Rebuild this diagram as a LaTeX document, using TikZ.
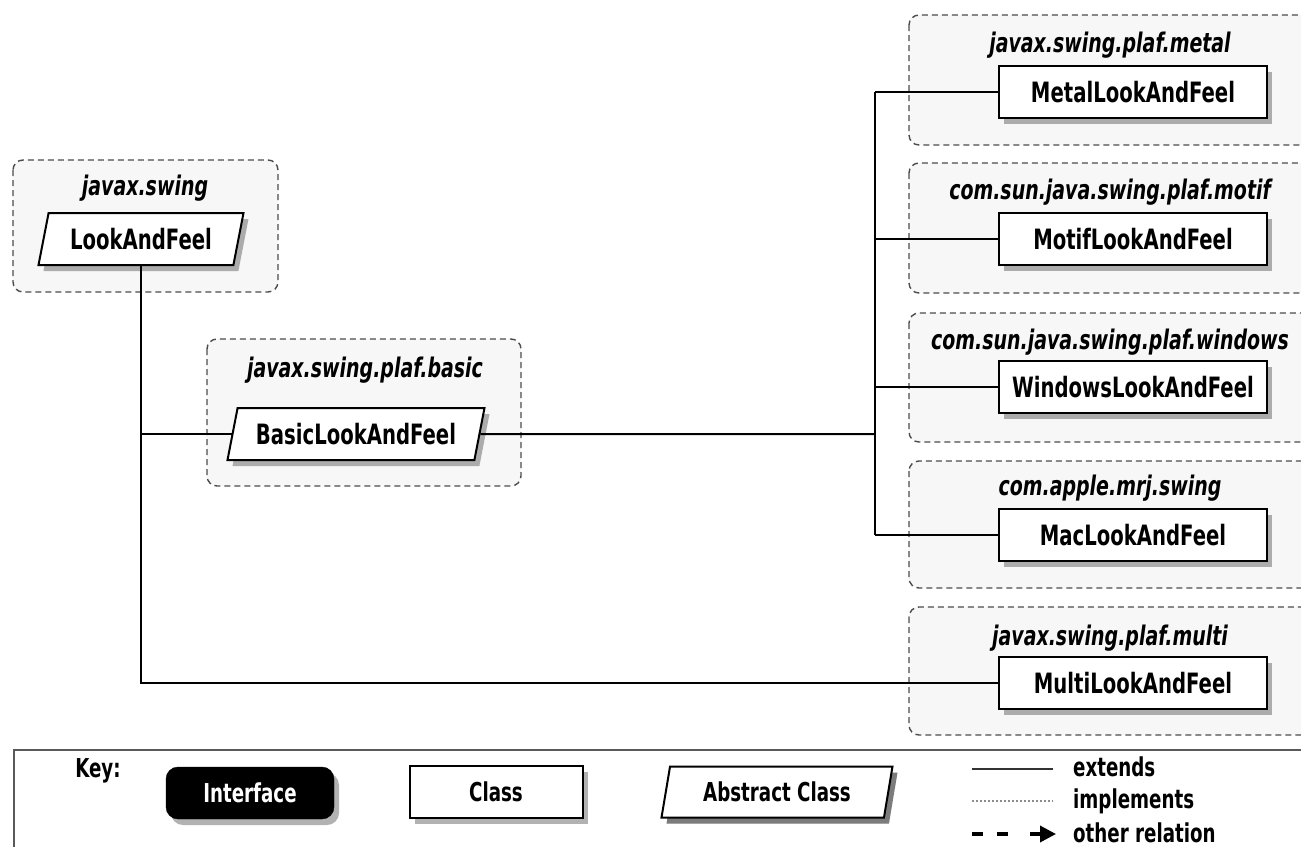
\documentclass[tikz,border=0pt]{standalone}
\usepackage{fontspec}
\setmainfont{DejaVu Sans Condensed}[FakeStretch=0.78, BoldFont={DejaVu Sans Condensed Bold}, BoldItalicFont={DejaVu Sans Condensed Bold Oblique}]
\usetikzlibrary{shapes.geometric,shadows,arrows.meta}
\tikzset{
  pkg/.style={draw=black!70, dash pattern=on 6pt off 4pt, line width=1.4pt, rounded corners=10pt, fill=black!3},
  shad/.style={drop shadow={shadow xshift=5pt, shadow yshift=-6pt, opacity=0.3, fill=black}},
  cls/.style={draw, line width=2pt, fill=white, minimum width=268pt, minimum height=52pt, inner sep=0pt, font=\bfseries\fontsize{28}{32}\selectfont, shad},
  absc/.style={trapezium, trapezium left angle=65, trapezium right angle=115, trapezium stretches body=true, draw, line width=2pt, fill=white, minimum height=52pt, inner sep=0pt, font=\bfseries\fontsize{28}{32}\selectfont, shad},
  pkglabel/.style={font=\bfseries\itshape\fontsize{27}{32}\selectfont, inner sep=0pt},
  conn/.style={line width=2pt},
  keytext/.style={font=\bfseries\fontsize{26}{30}\selectfont, inner sep=0pt}
}
\begin{document}
\begin{tikzpicture}[x=1pt,y=-1pt]
\useasboundingbox (0,0) rectangle (1301,846);
\clip (0,0) rectangle (1301,846);
% packages
\draw[pkg] (13,160) rectangle (278,292);
\draw[pkg] (207,339) rectangle (521,486);
\draw[pkg] (909,15) rectangle (1330,145);
\draw[pkg] (909,163) rectangle (1330,293);
\draw[pkg] (909,313) rectangle (1330,442);
\draw[pkg] (909,461) rectangle (1330,588);
\draw[pkg] (909,607) rectangle (1330,735);
% package labels
\node[pkglabel] (lswing) at (145,188) {javax.swing};
\node[pkglabel] (lbasic) at (365,370) {javax.swing.plaf.basic};
\node[pkglabel] (lmetal) at (1110,45) {javax.swing.plaf.metal};
\node[pkglabel] (lmotif) at (1110,192) {com.sun.java.swing.plaf.motif};
\node[pkglabel] (lwin) at (1110,342) {com.sun.java.swing.plaf.windows};
\node[pkglabel] (lmac) at (1110,488) {com.apple.mrj.swing};
\node[pkglabel] (lmulti) at (1110,638) {javax.swing.plaf.multi};
% class nodes
\node[absc, minimum width=205pt] (laf) at (141,239) {LookAndFeel};
\node[absc, minimum width=257pt] (basic) at (356,434) {BasicLookAndFeel};
\node[cls] (metal) at (1133,92) {MetalLookAndFeel};
\node[cls] (motif) at (1133,239) {MotifLookAndFeel};
\node[cls] (win) at (1133,387) {WindowsLookAndFeel};
\node[cls] (mac) at (1133,535) {MacLookAndFeel};
\node[cls] (multi) at (1133,683) {MultiLookAndFeel};
\coordinate (trunk) at (875,434);
% connectors
\draw[conn] (laf.south) -- (laf.south |- multi.west) -- (multi.west);
\draw[conn] (laf.south |- basic.west) -- (basic.west);
\draw[conn] (basic.east) -- (trunk);
\draw[conn] (trunk |- metal.west) -- (trunk |- mac.west);
\draw[conn] (trunk |- metal.west) -- (metal.west);
\draw[conn] (trunk |- motif.west) -- (motif.west);
\draw[conn] (trunk |- win.west) -- (win.west);
\draw[conn] (trunk |- mac.west) -- (mac.west);
% key
\draw[draw=black!65, line width=2.5pt] (14,870) -- (14,750) -- (1330,750);
\node[keytext] (key) at (98,771) {Key:};
\node[draw, fill=black, rounded corners=12pt, minimum width=168pt, minimum height=52pt, keytext, text=white, shad] (kint) at (250,793) {Interface};
\node[draw, line width=2pt, fill=white, minimum width=173pt, minimum height=52pt, keytext, shad] (kcls) at (496,792) {Class};
\node[absc, trapezium left angle=67, trapezium right angle=113, minimum width=231pt, minimum height=51pt, keytext, shad] (kabs) at (777,792) {Abstract Class};
\coordinate (e1) at (972,769); \coordinate (e2) at (1053,769);
\coordinate (i1) at (972,801); \coordinate (i2) at (1053,801);
\coordinate (o1) at (972,834); \coordinate (o3) at (1010,834);
\coordinate (o4) at (1030,834); \coordinate (o2) at (1056,834);
\draw[line width=2pt, black!80] (e1) -- (e2);
\draw[line width=1.6pt, black!45, dash pattern=on 2pt off 2pt] (i1) -- (i2);
\draw[line width=3.5pt, dash pattern=on 11pt off 14pt] (o1) -- (o3);
\draw[line width=3.5pt, -{Triangle[length=16pt,width=16pt]}] (o4) -- (o2);
\node[keytext, anchor=base west] (textend) at (1073,776) {extends};
\node[keytext, anchor=base west] (timpl) at (1073,808) {implements};
\node[keytext, anchor=base west] (tother) at (1073,842) {other relation};
\end{tikzpicture}
\end{document}
